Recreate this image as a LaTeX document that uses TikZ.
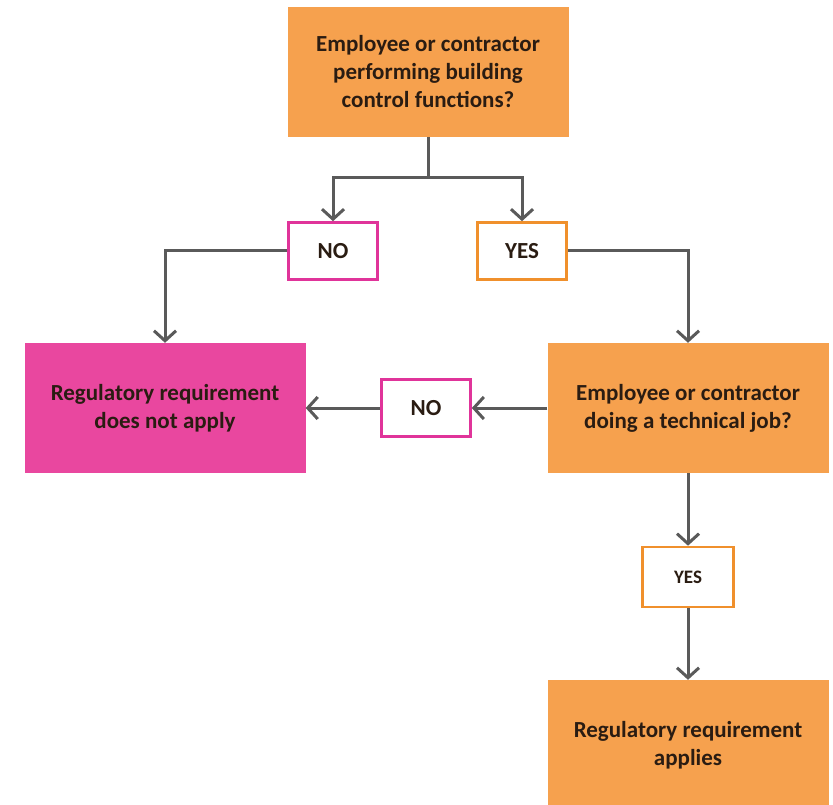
\documentclass[tikz,border=0pt]{standalone}
\usepackage{fontspec}
\setmainfont{Carlito}
\usetikzlibrary{arrows.meta}
\definecolor{qqc}{HTML}{F6A14E}
\definecolor{ppc}{HTML}{E9479F}
\definecolor{ppb}{HTML}{E0349A}
\definecolor{qqb}{HTML}{F0902C}
\definecolor{llc}{HTML}{5A5A5A}
\definecolor{ttc}{HTML}{2A1C12}
\begin{document}
\begin{tikzpicture}[x=1pt, y=1pt, node distance=100pt,
    qbox/.style={rectangle, fill=qqc, minimum width=281pt, minimum height=130pt, align=center, text=ttc, font=\fontsize{23}{28}\selectfont\bfseries},
    pbox/.style={qbox, fill=ppc},
    nobox/.style={rectangle, draw=ppb, line width=2.6pt, fill=white, minimum width=89pt, minimum height=57pt, text=ttc, font=\fontsize{23}{26}\selectfont\bfseries},
    yesbox/.style={nobox, draw=qqb},
    line/.style={draw=llc, line width=3pt},
    arrow/.style={line, -{Straight Barb[length=10pt, width=22pt, line width=3pt]}}]

    \useasboundingbox (0,0) rectangle (833,-805);

    \node[qbox] (q1) at (428,-72) {Employee or contractor\\performing building\\control functions?};
    \coordinate[below of=q1, node distance=106] (split);
    \node[nobox, below of=q1, node distance=179, xshift=-95] (no1) {NO};
    \node[yesbox, below of=q1, node distance=179, xshift=94] (yes1) {YES};
    \node[pbox, below of=no1, node distance=157, xshift=-168] (notapply) {Regulatory requirement\\does not apply};
    \node[qbox, below of=yes1, node distance=157, xshift=166] (q2) {Employee or contractor\\doing a technical job?};
    \node[nobox, left of=q2, node distance=262] (no2) {NO};
    \node[yesbox, below of=q2, node distance=169, minimum width=91pt, minimum height=60pt, font=\fontsize{19}{22}\selectfont\bfseries] (yes2) {YES};
    \node[qbox, below of=yes2, node distance=168] (applies) {Regulatory requirement\\applies};

    \draw[line] (q1) -- (split);
    \draw[arrow] (split) -| (no1);
    \draw[arrow] (split) -| (yes1);
    \draw[arrow] (no1) -| (notapply);
    \draw[arrow] (yes1) -| (q2);
    \draw[arrow] (q2) -- (no2);
    \draw[arrow] (no2) -- (notapply);
    \draw[arrow] (q2) -- (yes2);
    \draw[arrow] (yes2) -- (applies);

\end{tikzpicture}
\end{document}
